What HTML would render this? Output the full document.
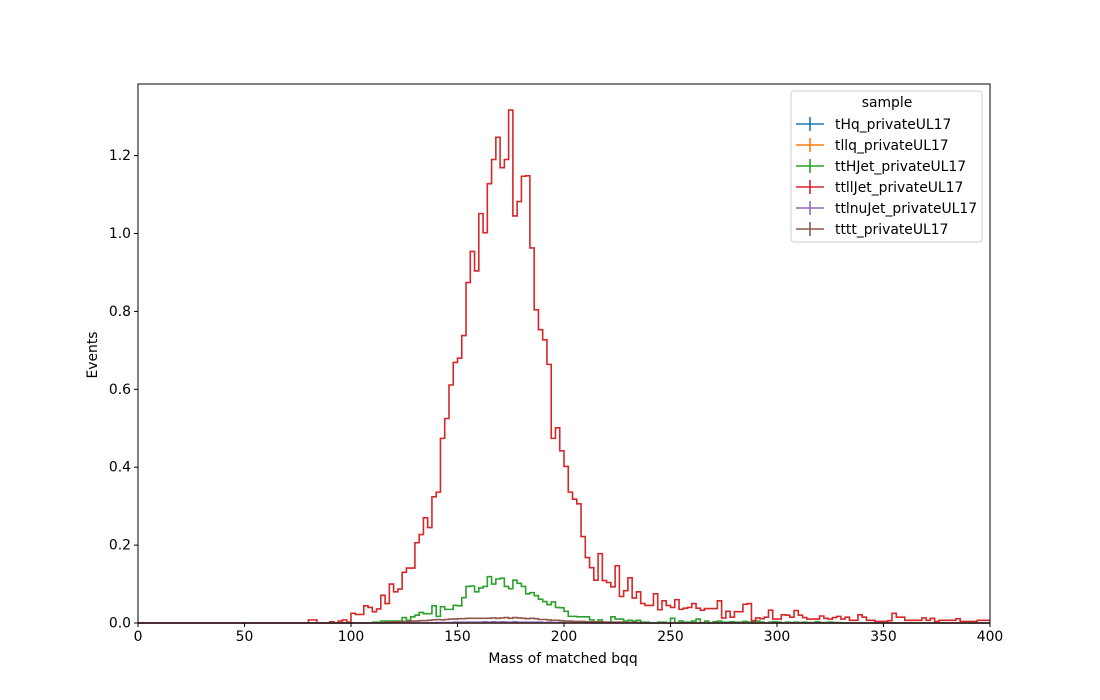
<!DOCTYPE html>
<html><head><meta charset="utf-8"><style>
body{margin:0;background:#fff;}
svg{display:block;font-family:"DejaVu Sans","Liberation Sans",sans-serif;}
</style></head><body>
<svg id="chart" width="1100" height="700">
<rect width="1100" height="700" fill="#fff"/>
<g id="plot"></g>
<g id="axes"></g>
<text x="563" y="663" font-size="13.9" text-anchor="middle">Mass of matched bqq</text>
<text transform="translate(97,355) rotate(-90)" font-size="13.9" text-anchor="middle">Events</text>
<g id="legend">
<rect x="791" y="91" width="191" height="151" rx="3" fill="#fff" fill-opacity="0.8" stroke="#ccc"/>
<text x="887" y="107" font-size="13.9" text-anchor="middle">sample</text>
</g>
</svg>
<script>
const xTicks=[0,50,100,150,200,250,300,350,400];
const yTicks=[0.0,0.2,0.4,0.6,0.8,1.0,1.2];
const yTickLabels=["0.0","0.2","0.4","0.6","0.8","1.0","1.2"];
const binWidth=2;
const seriesNames=["tHq_privateUL17","tllq_privateUL17","ttHJet_privateUL17","ttllJet_privateUL17","ttlnuJet_privateUL17","tttt_privateUL17"];
const seriesColors=["#1f77b4","#ff7f0e","#2ca02c","#d62728","#9467bd","#8c564b"];
const tHqStart=0; const tHqVals=[0];
const tllqStart=0; const tllqVals=[0];
const ttHStart=55;
const ttHVals=[0.002,0.002,0.005,0.005,0.005,0.005,0.005,0.014,0.007,0.016,0.02,0.027,0.024,0.024,0.044,0.017,0.042,0.035,0.035,0.045,
0.044,0.065,0.094,0.095,0.08,0.09,0.094,0.119,0.1,0.113,0.115,0.094,0.088,0.11,0.102,0.094,0.075,0.078,0.07,0.061,0.055,0.047,0.054,0.04,0.039,0.03,0.017,0.017,0.016,0.016,
0.016,0.008,0.002,0.008,0.002,0.002,0.016,0.01,0.01,0.005,0.007,0.005,0.007,0.002,0.002,0,0,0.002,0.002,0,0.012,0,0.005,0.002,0.002,0.005,0.01,0,0.005,0,0.003,0.005,0.002,0.002,0.003,0.002,0.002,0.004,0.002,0.002,0.005,0.002,0,0.002,0.003,0.002,0,0.002,0.001,0.002,0.001,0.002,0.001,0.001,0.003,0.001,0.001,0.002,0.001,0.001];
const ttllStart=38;
const ttllVals=[0,0,0.008,0.008,0,0,0,0.003,0,0.005,0.008,0.002,
0.025,0.022,0.022,0.044,0.04,0.029,0.036,0.071,0.05,0.10,0.08,0.087,0.13,0.141,0.141,0.206,0.227,0.27,0.245,0.324,0.336,0.474,0.525,0.611,0.669,0.68,
0.738,0.874,0.954,0.904,1.051,1.002,1.128,1.19,1.247,1.169,1.19,1.317,1.045,1.082,1.147,1.148,0.963,0.804,0.753,0.727,0.664,0.474,0.501,0.442,0.402,0.336,0.318,0.306,0.222,
0.168,0.142,0.11,0.178,0.109,0.104,0.093,0.147,0.068,0.083,0.116,0.064,0.08,0.05,0.045,0.045,0.075,0.034,0.057,0.045,0.04,0.06,0.035,0.038,0.04,0.05,0.038,0.033,0.037,0.037,0.037,0.057,0.013,0.03,0.015,0.029,0.029,0.048,0.05,0.006,0.013,0.011,0.015,0.033,0.01,0.01,0.021,
0.02,0.015,0.032,0.02,0.014,0.01,0.01,0.01,0.018,0.012,0.01,0.014,0.017,0.01,0.015,0.007,0.007,0.021,0.015,0.007,0.007,0.004,0.004,0.004,0.006,0.025,0.015,0.015,0.007,0.007,0.007,0.007,0.013,0.007,0.012,0.004,0.007,0.007,0.007,0.007,0.011,0.004,0.004,0.004,0.004,0.007,0.007,0.007];
const ttlnuStart=70;
const ttlnuVals=[0.001,0.001,0.001,0.001,0.002,0.002,0.002,0.002,0.002,0.002,0.002,0.003,0.002,0.003,0.002,0.003,0.002,0.002,0.003,0.002,0.002,0.002,0.002,0.002,0.002,0.001,0.002,0.001,0.001,0.001,0.001,0.001,0.001,0.001,0.001];
const ttttStart=58;
const ttttVals=[0.002,0.002,0.003,0.003,0.004,0.004,0.005,0.005,0.006,0.006,0.007,0.008,0.009,0.008,0.009,0.01,0.01,0.011,0.011,0.012,0.012,0.012,0.012,0.012,0.012,0.013,0.012,0.013,0.014,0.012,0.014,0.013,0.012,0.011,0.012,0.011,0.009,0.009,0.008,0.007,0.007,0.006,0.005,0.005,0.004,0.004,0.004,0.003,0.003,0.003,0.003,0.002,0.002,0.002,0.002,0.002,0.001,0.001,0.001,0.001];
const seriesStarts=[tHqStart,tllqStart,ttHStart,ttllStart,ttlnuStart,ttttStart];
const seriesVals=[tHqVals,tllqVals,ttHVals,ttllVals,ttlnuVals,ttttVals];

const X0=138,X1=990,Y0=623,Y1=84,XMAX=400,YMAX=1.3838;
function sx(v){return X0+(v/XMAX)*(X1-X0);}
function sy(v){return Y0-(v/YMAX)*(Y0-Y1);}
const NS="http://www.w3.org/2000/svg";
function mk(tag,attrs,parent){const e=document.createElementNS(NS,tag);for(const k in attrs)e.setAttribute(k,attrs[k]);parent.appendChild(e);return e;}
const plot=document.getElementById('plot'),axes=document.getElementById('axes'),legend=document.getElementById('legend');
const nBins=XMAX/binWidth;
seriesVals.forEach((vals,s)=>{
  let d='';
  for(let i=0;i<nBins;i++){
    const j=i-seriesStarts[s];
    const v=(j>=0&&j<vals.length)?vals[j]:0;
    const xa=sx(i*binWidth),xb=sx((i+1)*binWidth),y=sy(v);
    d+=(i===0?'M':'L')+xa.toFixed(2)+','+y.toFixed(2)+'L'+xb.toFixed(2)+','+y.toFixed(2);
  }
  const p=mk('path',{d:d,fill:'none',stroke:seriesColors[s],'stroke-width':1.6},plot);
  
  
  const ly=124+s*21;
  const g=mk('g',{},legend);
  
  
  mk('line',{x1:796,x2:824,y1:ly,y2:ly,stroke:seriesColors[s],'stroke-width':1.6},g);
  mk('line',{x1:810,x2:810,y1:ly-7,y2:ly+7,stroke:seriesColors[s],'stroke-width':1.6},g);
  const t=mk('text',{x:835,y:ly+5,'font-size':13.9},g);t.textContent=seriesNames[s];
});
const frame=mk('rect',{x:X0,y:Y1,width:X1-X0,height:Y0-Y1,fill:'none',stroke:'#000','stroke-width':1},axes);


xTicks.forEach(v=>{
  const x=sx(v);
  mk('line',{x1:x,x2:x,y1:Y0,y2:Y0+4,stroke:'#000'},axes);
  const t=mk('text',{x:x,y:Y0+18,'font-size':13.9,'text-anchor':'middle'},axes);
  
  
  t.textContent=v;
});
yTicks.forEach((v,i)=>{
  const y=sy(v);
  mk('line',{x1:X0-4,x2:X0,y1:y,y2:y,stroke:'#000'},axes);
  const t=mk('text',{x:X0-7,y:y+4.5,'font-size':13.9,'text-anchor':'end'},axes);
  
  
  t.textContent=yTickLabels[i];
});
</script>
</body></html>
